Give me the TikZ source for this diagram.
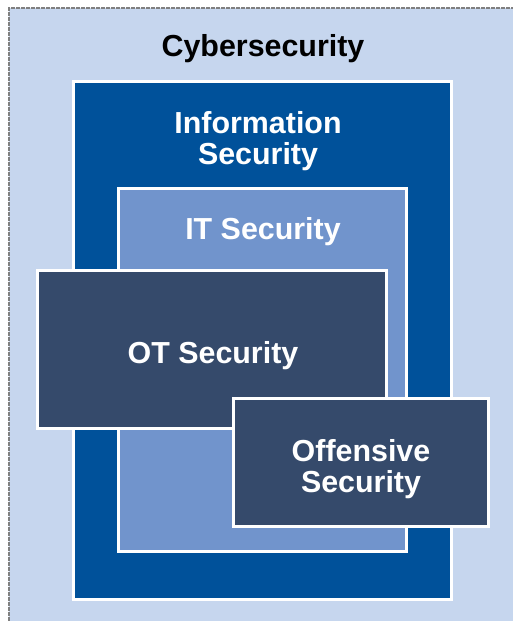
\documentclass[tikz,border=0pt]{standalone}
\usepackage{fontspec}
\setmainfont{Liberation Sans}
\usetikzlibrary{positioning}

\definecolor{cyberbg}{HTML}{C6D6EE}
\definecolor{infoblue}{HTML}{00519A}
\definecolor{itblue}{HTML}{7194CC}
\definecolor{otslate}{HTML}{354A6B}

\begin{document}
\begin{tikzpicture}[x=1pt,y=-1pt,
                    box/.style={rectangle,draw=white,line width=3pt,inner sep=0pt},
                    title/.style={align=center,font=\bfseries\fontsize{30.4}{31}\selectfont,text=white}]
  \useasboundingbox (0,0) rectangle (513,621);

  % background field
  \fill[cyberbg] (9,8) rectangle (513,621);
  \draw[gray,line width=2.5pt,dash pattern=on 4pt off 1pt] (9,621) -- (9,8) -- (513,8);
  \node[title,text=black] (cyber) at (263,49) {Cybersecurity};

  \node[box,fill=infoblue,minimum width=378pt,minimum height=518pt] (info) at (262.5,340.5) {};
  \node[title]        (infot) at (258,141) {Information\\Security};

  \node[box,fill=itblue,minimum width=288pt,minimum height=363pt]   (it)    at (262.5,370) {};
  \node[title]        (itt)   at (263,232) {IT Security};

  \node[box,fill=otslate,minimum width=349pt,minimum height=158pt]  (ot)    at (212,349.5) {};
  \node[title]        (ott)   at (213,356) {OT Security};

  \node[box,fill=otslate,minimum width=255pt,minimum height=128pt]  (off)   at (361,462.5) {};
  \node[title]        (offt)  at (361,469) {Offensive\\Security};
\end{tikzpicture}
\end{document}
